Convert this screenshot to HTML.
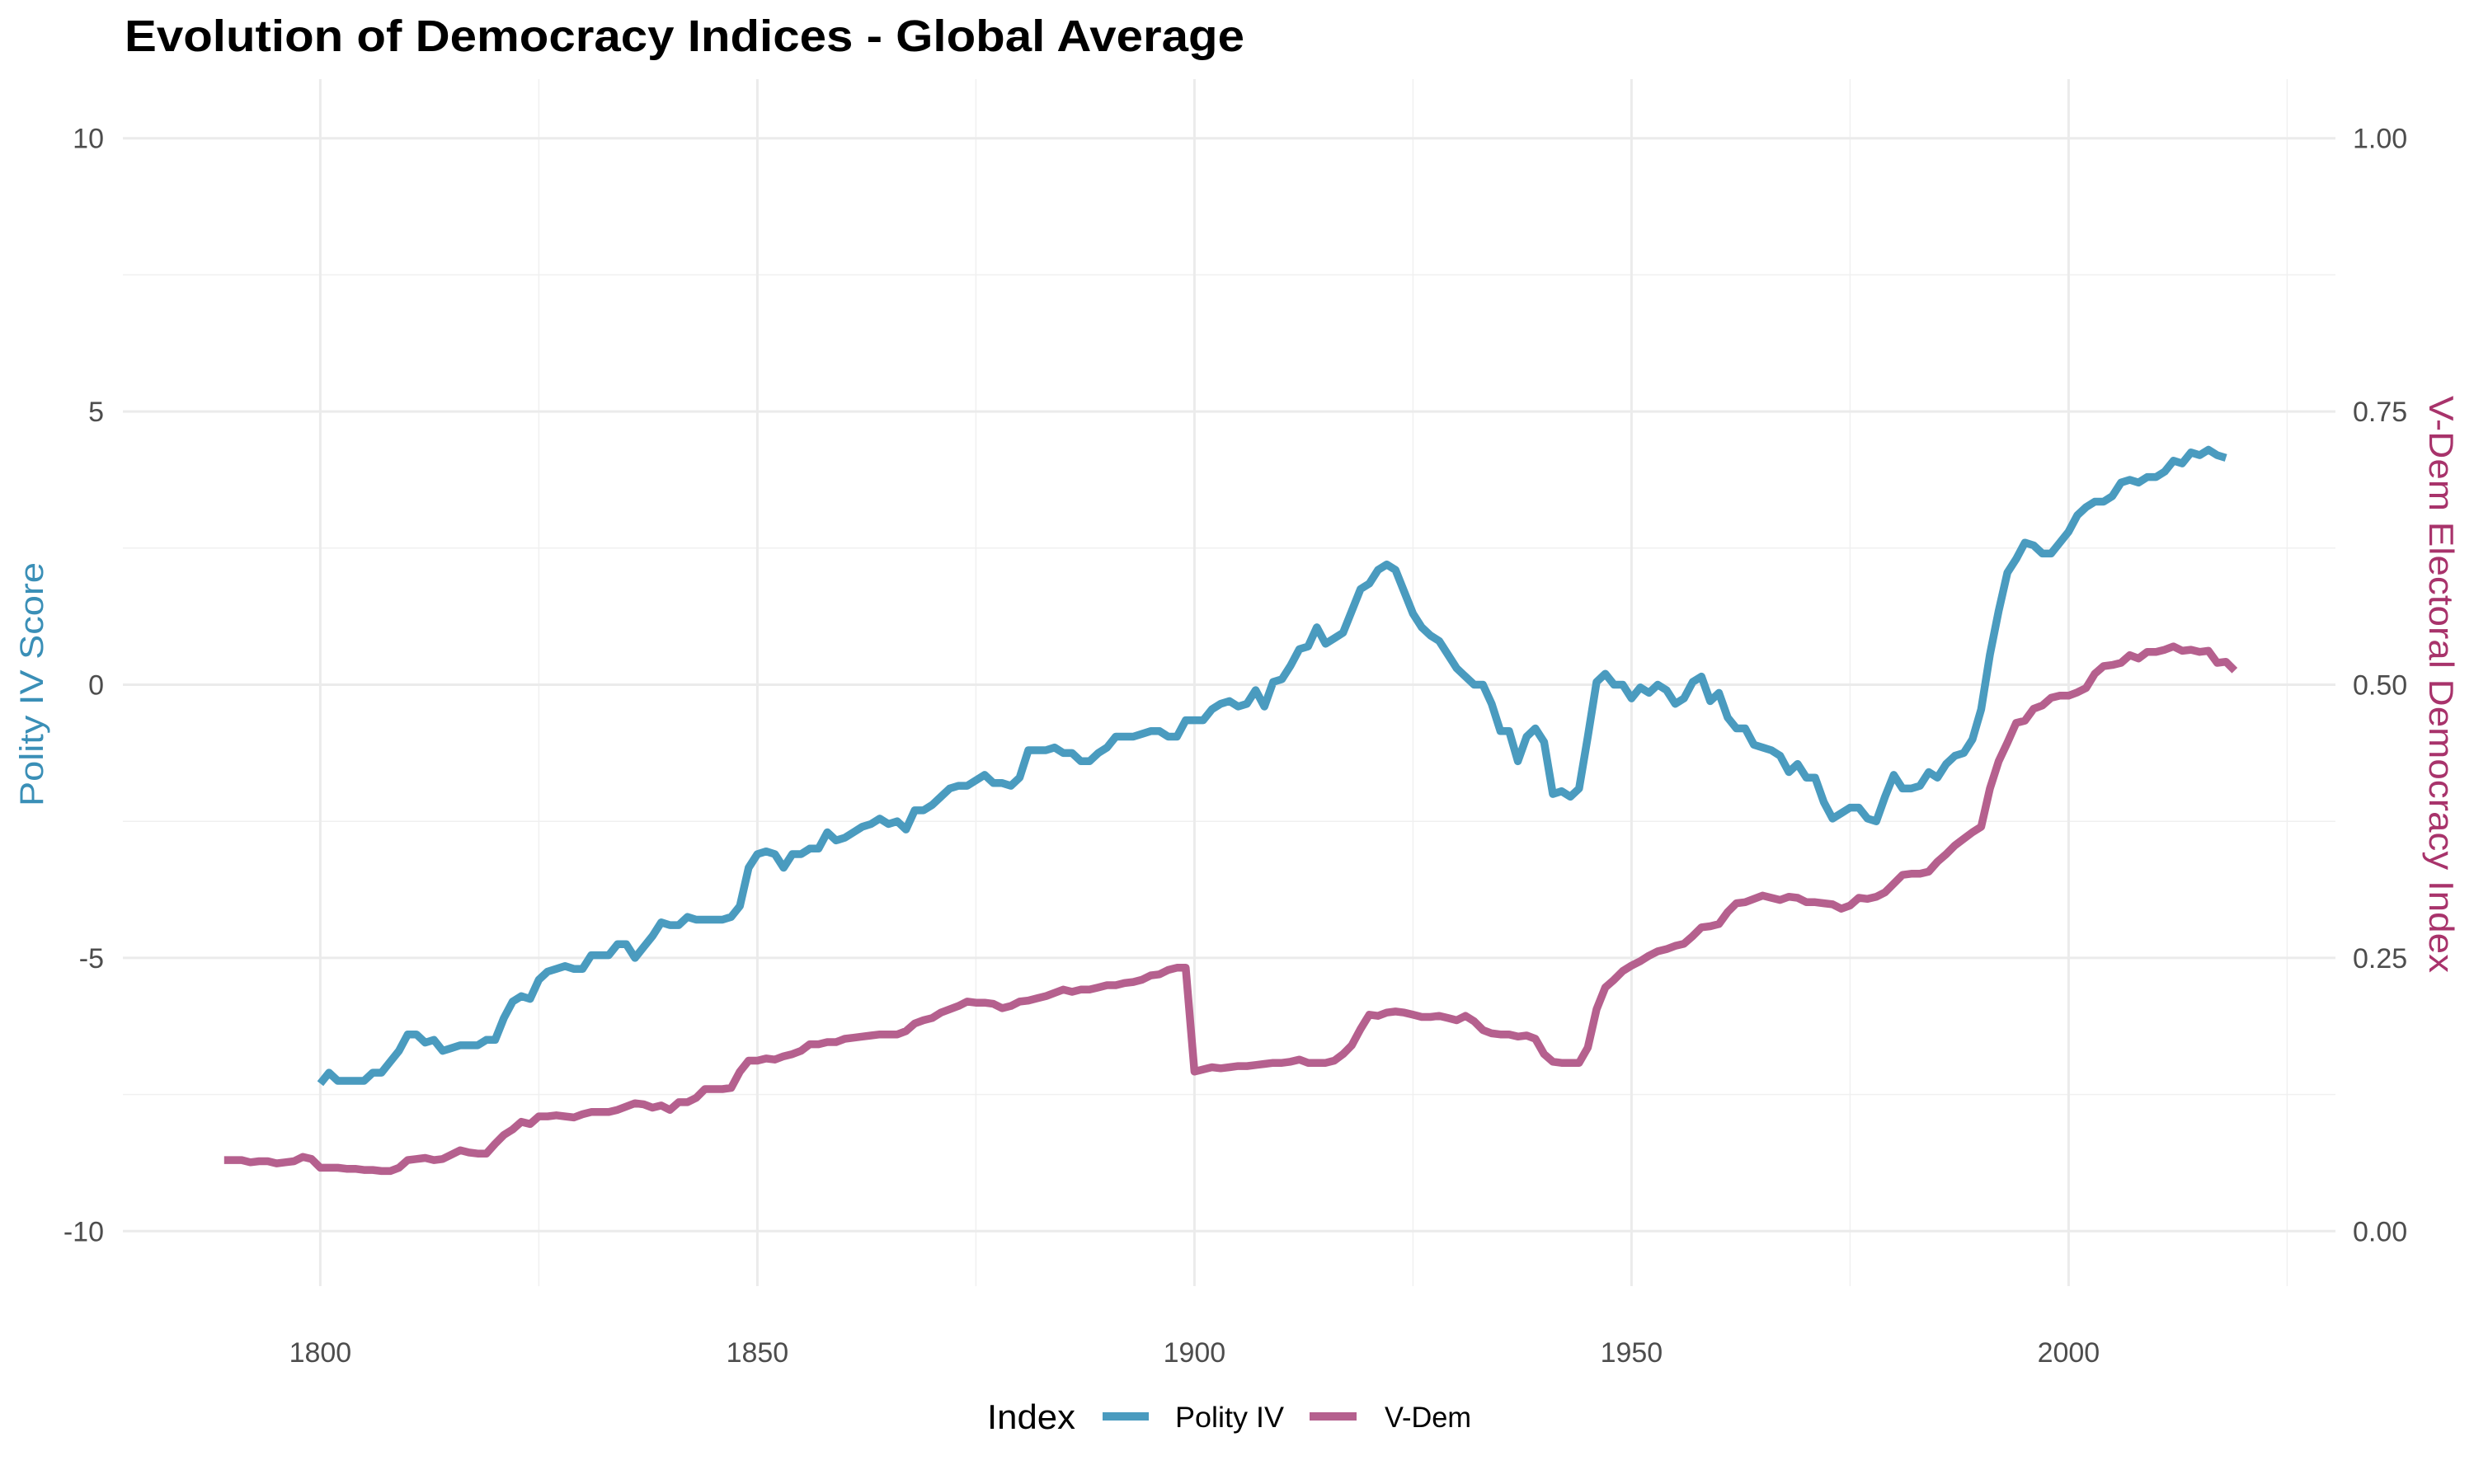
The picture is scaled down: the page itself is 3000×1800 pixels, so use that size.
<!DOCTYPE html>
<html><head><meta charset="utf-8"><style>
html,body{margin:0;padding:0;background:#fff;}
svg{display:block;font-family:"Liberation Sans",Arial,sans-serif;}
</style></head><body>
<svg id="chart" width="3000" height="1800" viewBox="0 0 3000 1800" xmlns="http://www.w3.org/2000/svg">
<rect width="3000" height="1800" fill="#fff"/>
<text x="151" y="62" font-size="54" font-weight="bold" fill="#000" textLength="1358" lengthAdjust="spacingAndGlyphs">Evolution of Democracy Indices - Global Average</text>
<g id="grid"></g>
<g id="axes"></g>
<g id="series"></g>
<text transform="translate(52,830) rotate(-90)" text-anchor="middle" font-size="40" fill="#3a8fb7" textLength="296" lengthAdjust="spacingAndGlyphs">Polity IV Score</text>
<text transform="translate(2946,830) rotate(90)" text-anchor="middle" font-size="42" fill="#a8336b" textLength="700" lengthAdjust="spacingAndGlyphs">V-Dem Electoral Democracy Index</text>
<g>
<text x="1197" y="1733" font-size="42" fill="#000" textLength="107" lengthAdjust="spacingAndGlyphs">Index</text>
<line x1="1337" y1="1718" x2="1393" y2="1718" stroke="#4a9bbf" stroke-width="10"/>
<text x="1425" y="1731" font-size="35" fill="#000" textLength="132" lengthAdjust="spacingAndGlyphs">Polity IV</text>
<line x1="1588" y1="1718" x2="1645" y2="1718" stroke="#b5608e" stroke-width="10"/>
<text x="1679" y="1731" font-size="35" fill="#000" textLength="105" lengthAdjust="spacingAndGlyphs">V-Dem</text>
</g>
</svg>
<script>
const polityStart = 1800;
const polityValues = [-7.3,-7.1,-7.25,-7.25,-7.25,-7.25,-7.1,-7.1,-6.9,-6.7,-6.4,-6.4,-6.55,-6.5,-6.7,-6.65,-6.6,-6.6,-6.6,-6.5,-6.5,-6.1,-5.8,-5.7,-5.75,-5.4,-5.25,-5.2,-5.15,-5.2,-5.2,-4.95,-4.95,-4.95,-4.75,-4.75,-5.0,-4.8,-4.6,-4.35,-4.4,-4.4,-4.25,-4.3,-4.3,-4.3,-4.3,-4.25,-4.05,-3.35,-3.1,-3.05,-3.1,-3.35,-3.1,-3.1,-3.0,-3.0,-2.7,-2.85,-2.8,-2.7,-2.6,-2.55,-2.45,-2.55,-2.5,-2.65,-2.3,-2.3,-2.2,-2.05,-1.9,-1.85,-1.85,-1.75,-1.65,-1.8,-1.8,-1.85,-1.7,-1.2,-1.2,-1.2,-1.15,-1.25,-1.25,-1.4,-1.4,-1.25,-1.15,-0.95,-0.95,-0.95,-0.9,-0.85,-0.85,-0.95,-0.95,-0.65,-0.65,-0.65,-0.45,-0.35,-0.3,-0.4,-0.35,-0.1,-0.4,0.05,0.1,0.35,0.65,0.7,1.05,0.75,0.85,0.95,1.35,1.75,1.85,2.1,2.2,2.1,1.7,1.3,1.05,0.9,0.8,0.55,0.3,0.15,0.0,0.0,-0.35,-0.85,-0.85,-1.4,-0.95,-0.8,-1.05,-2.0,-1.95,-2.05,-1.9,-0.95,0.05,0.2,0.0,0.0,-0.25,-0.05,-0.15,0.0,-0.1,-0.35,-0.25,0.05,0.15,-0.3,-0.15,-0.6,-0.8,-0.8,-1.1,-1.15,-1.2,-1.3,-1.6,-1.45,-1.7,-1.7,-2.15,-2.45,-2.35,-2.25,-2.25,-2.45,-2.5,-2.05,-1.65,-1.9,-1.9,-1.85,-1.6,-1.7,-1.45,-1.3,-1.25,-1.0,-0.45,0.55,1.35,2.05,2.3,2.6,2.55,2.4,2.4,2.6,2.8,3.1,3.25,3.35,3.35,3.45,3.7,3.75,3.7,3.8,3.8,3.9,4.1,4.05,4.25,4.2,4.3,4.2,4.15];
const vdemStart = 1789;
const vdemValues = [0.065,0.065,0.065,0.063,0.064,0.064,0.062,0.063,0.064,0.068,0.066,0.058,0.058,0.058,0.057,0.057,0.056,0.056,0.055,0.055,0.058,0.065,0.066,0.067,0.065,0.066,0.07,0.074,0.072,0.071,0.071,0.08,0.088,0.093,0.1,0.098,0.105,0.105,0.106,0.105,0.104,0.107,0.109,0.109,0.109,0.111,0.114,0.117,0.116,0.113,0.115,0.111,0.118,0.118,0.122,0.13,0.13,0.13,0.131,0.146,0.156,0.156,0.158,0.157,0.16,0.162,0.165,0.171,0.171,0.173,0.173,0.176,0.177,0.178,0.179,0.18,0.18,0.18,0.183,0.19,0.193,0.195,0.2,0.203,0.206,0.21,0.209,0.209,0.208,0.204,0.206,0.21,0.211,0.213,0.215,0.218,0.221,0.219,0.221,0.221,0.223,0.225,0.225,0.227,0.228,0.23,0.234,0.235,0.239,0.241,0.241,0.146,0.148,0.15,0.149,0.15,0.151,0.151,0.152,0.153,0.154,0.154,0.155,0.157,0.154,0.154,0.154,0.156,0.162,0.17,0.185,0.198,0.197,0.2,0.201,0.2,0.198,0.196,0.196,0.197,0.195,0.193,0.197,0.192,0.184,0.181,0.18,0.18,0.178,0.179,0.176,0.162,0.155,0.154,0.154,0.154,0.168,0.203,0.223,0.23,0.238,0.243,0.247,0.252,0.256,0.258,0.261,0.263,0.27,0.278,0.279,0.281,0.292,0.3,0.301,0.304,0.307,0.305,0.303,0.306,0.305,0.301,0.301,0.3,0.299,0.295,0.298,0.305,0.304,0.306,0.31,0.318,0.326,0.327,0.327,0.329,0.338,0.345,0.353,0.359,0.365,0.37,0.405,0.43,0.447,0.465,0.467,0.478,0.481,0.488,0.49,0.49,0.493,0.497,0.51,0.517,0.518,0.52,0.527,0.524,0.53,0.53,0.532,0.535,0.531,0.532,0.53,0.531,0.52,0.521,0.513];
const xTicks = [1800,1850,1900,1950,2000];
const xMinor = [1825,1875,1925,1975,2025];
const yTicks = [-10,-5,0,5,10];
const yMinor = [-7.5,-2.5,2.5,7.5];
const yRightLabels = ["0.00","0.25","0.50","0.75","1.00"];

const NS="http://www.w3.org/2000/svg";
const PX0=149, PX1=2832, PY0=96, PY1=1560;
function xScale(yr){return 388.4 + (yr-1800)*10.6;}
function yScale(v){return 830.5 - v*66.28;}
function vdemToPolity(v){return v*20-10;}
function mk(tag,attrs,parent){const e=document.createElementNS(NS,tag);for(const k in attrs)e.setAttribute(k,attrs[k]);parent.appendChild(e);return e;}
const grid=document.getElementById('grid'), axes=document.getElementById('axes'), series=document.getElementById('series');
yMinor.forEach(v=>{const l=mk('line',{x1:PX0,x2:PX1,y1:yScale(v),y2:yScale(v),stroke:'#f0f0f0','stroke-width':1.5},grid);

});
xMinor.forEach(v=>{const l=mk('line',{x1:xScale(v),x2:xScale(v),y1:PY0,y2:PY1,stroke:'#f0f0f0','stroke-width':1.5},grid);

});
yTicks.forEach((v,i)=>{const l=mk('line',{x1:PX0,x2:PX1,y1:yScale(v),y2:yScale(v),stroke:'#ebebeb','stroke-width':3},grid);


const t=mk('text',{x:126,y:yScale(v)+12,'text-anchor':'end','font-size':34,fill:'#4d4d4d'},axes);t.textContent=v;


const r=mk('text',{x:2853,y:yScale(v)+12,'font-size':34,fill:'#4d4d4d'},axes);r.textContent=yRightLabels[i];

});
xTicks.forEach(v=>{const l=mk('line',{x1:xScale(v),x2:xScale(v),y1:PY0,y2:PY1,stroke:'#ebebeb','stroke-width':3},grid);


const t=mk('text',{x:xScale(v),y:1652,'text-anchor':'middle','font-size':34,fill:'#4d4d4d'},axes);t.textContent=v;

});
function path(vals,start,conv){return vals.map((v,i)=>(i?'L':'M')+xScale(start+i).toFixed(1)+','+yScale(conv(v)).toFixed(1)).join('');}
const p1=mk('path',{d:path(vdemValues,vdemStart,vdemToPolity),fill:'none',stroke:'#b5608e','stroke-width':9.5,'stroke-linejoin':'round'},series);


const p2=mk('path',{d:path(polityValues,polityStart,v=>v),fill:'none',stroke:'#4a9bbf','stroke-width':9.5,'stroke-linejoin':'round'},series);


</script>
</body></html>
